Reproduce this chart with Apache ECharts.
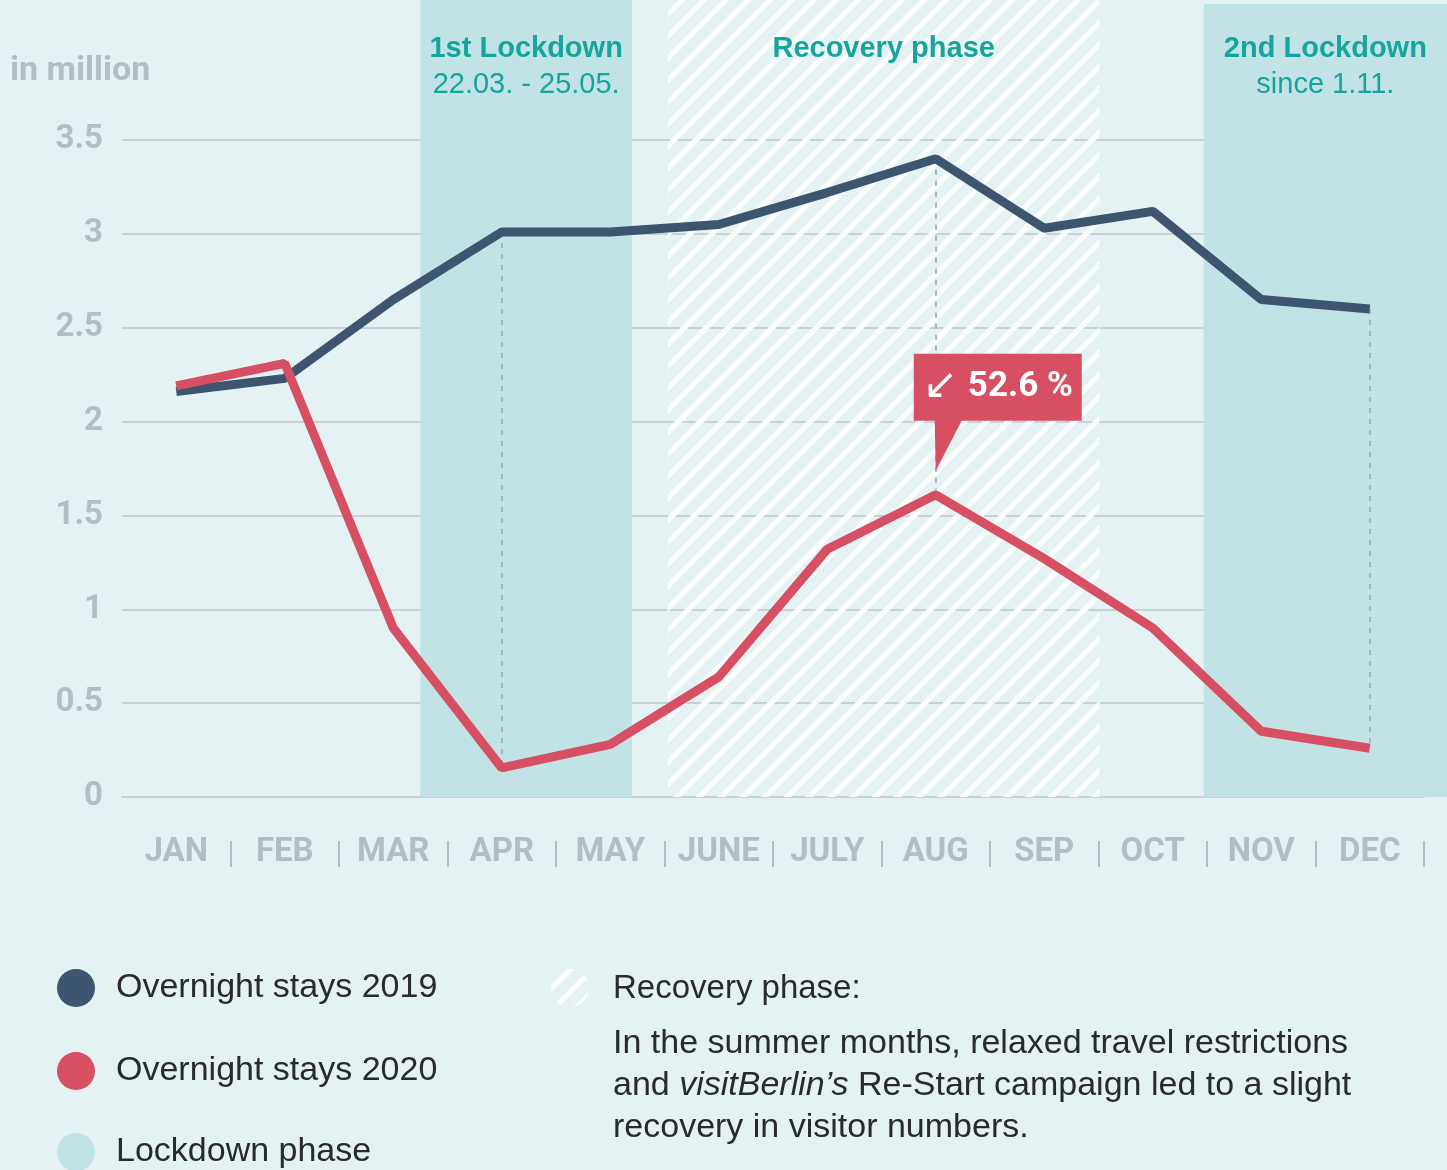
<!DOCTYPE html>
<html>
<head>
<meta charset="utf-8">
<script src="https://cdn.jsdelivr.net/npm/echarts@6/dist/echarts.min.js"></script>
<style>
    html, body { margin: 0; padding: 0; background: #e5f2f3; }
    #main { width: 1447px; height: 1170px; }
</style>
</head>
<body>
<div id="main"></div>
<script>
    // 月份
    var months = ['JAN', 'FEB', 'MAR', 'APR', 'MAY', 'JUNE', 'JULY', 'AUG', 'SEP', 'OCT', 'NOV', 'DEC'];
    // 过夜数 (百万)
    var stays2019 = [2.16, 2.23, 2.65, 3.01, 3.01, 3.05, 3.22, 3.40, 3.03, 3.12, 2.65, 2.60];
    var stays2020 = [2.19, 2.31, 0.90, 0.155, 0.28, 0.64, 1.32, 1.61, 1.27, 0.90, 0.35, 0.26];
    var yTicks = [0, 0.5, 1, 1.5, 2, 2.5, 3, 3.5];
    // 阶段 (以月为单位, 0 = 1月初)
    var phaseNames = ['1st Lockdown', 'Recovery phase', '2nd Lockdown'];
    var phaseSub = ['22.03. - 25.05.', '', 'since 1.11.'];
    var phaseStart = [2.75, 5.03, 9.97];
    var phaseEnd = [4.70, 9.01, 12.212];
    // 虚线标注的月份
    var markMonths = ['APR', 'AUG', 'DEC'];

    var teal = '#16a59d';
    var grey = '#b3bdc5';
    var lockColor = '#c2e3e5';
    var textColor = '#2a2a2a';

    // 斜线填充
    function makeHatch() {
        var c = document.createElement('canvas');
        c.width = 22;
        c.height = 22;
        var ctx = c.getContext('2d');
        ctx.strokeStyle = '#fbfdfd';
        ctx.lineWidth = 5.5;
        ctx.beginPath();
        ctx.moveTo(-11, 11); ctx.lineTo(11, -11);
        ctx.moveTo(0, 22); ctx.lineTo(22, 0);
        ctx.moveTo(11, 33); ctx.lineTo(33, 11);
        ctx.stroke();
        return c;
    }
    var hatch = {image: makeHatch(), repeat: 'repeat'};

    var bandData = [];
    for (var i = 0; i < phaseNames.length; i++) {
        var isRecovery = phaseNames[i] === 'Recovery phase';
        var txt = '{b|' + phaseNames[i] + '}' + (phaseSub[i] ? '\n{r|' + phaseSub[i] + '}' : '');
        bandData.push([
            {
                xAxis: phaseStart[i],
                yAxis: 0,
                itemStyle: {color: isRecovery ? hatch : lockColor},
                label: {formatter: txt, distance: i === 2 ? 27 : 31}
            },
            {xAxis: phaseEnd[i], yAxis: i === 2 ? 0.995 : 1}
        ]);
    }

    var markLines = [];
    for (var j = 0; j < markMonths.length; j++) {
        var k = months.indexOf(markMonths[j]);
        markLines.push([
            {coord: [markMonths[j], stays2019[k]]},
            {coord: [markMonths[j], stays2020[k]]}
        ]);
    }

    var aug = months.indexOf('AUG');
    var drop = ((stays2019[aug] - stays2020[aug]) / stays2019[aug] * 100).toFixed(1);

    var legendBase = {
        orient: 'vertical',
        left: 57,
        padding: 0,
        icon: 'circle',
        itemWidth: 38,
        itemHeight: 38,
        itemGap: 45,
        selectedMode: false,
        textStyle: {fontSize: 34, color: textColor, fontFamily: 'Liberation Sans', padding: [0, 0, 0, 16]}
    };

    var myChart = echarts.init(document.getElementById('main'));
    var option = {
        backgroundColor: '#e5f2f3',
        animation: false,
        textStyle: {fontFamily: 'Roboto'},
        grid: [
            {left: 122, right: 23, top: 140, bottom: 373},
            {left: 122, right: 0, top: 0, bottom: 373}
        ],
        xAxis: [
            {
                type: 'category',
                gridIndex: 0,
                data: months,
                boundaryGap: true,
                axisLine: {show: true, lineStyle: {color: '#c8d1d6', width: 2}},
                axisTick: {show: false},
                axisLabel: {color: grey, fontSize: 33, fontWeight: 'bold', margin: 39}
            },
            {
                type: 'category',
                gridIndex: 0,
                data: months,
                position: 'bottom',
                offset: 44,
                boundaryGap: true,
                axisLine: {show: false},
                axisLabel: {show: false},
                axisTick: {
                    show: true,
                    length: 26,
                    interval: function (index) { return index !== 0; },
                    lineStyle: {color: grey, width: 2}
                }
            },
            {
                type: 'value',
                gridIndex: 1,
                min: 0,
                max: 12.212,
                show: false
            }
        ],
        yAxis: [
            {
                type: 'value',
                gridIndex: 0,
                min: yTicks[0],
                max: yTicks[yTicks.length - 1],
                interval: 0.5,
                axisLine: {show: false},
                axisTick: {show: false},
                axisLabel: {color: grey, fontSize: 33, fontWeight: 'bold', margin: 19},
                splitLine: {lineStyle: {color: '#c8d1d6', width: 2}}
            },
            {
                type: 'value',
                gridIndex: 1,
                min: 0,
                max: 1,
                show: false
            }
        ],
        legend: [
            Object.assign({}, legendBase, {top: 969, data: ['Overnight stays 2019', 'Overnight stays 2020']}),
            Object.assign({}, legendBase, {top: 1133, data: ['Lockdown phase']})
        ],
        graphic: [
            {
                type: 'text',
                left: 10,
                top: 54,
                style: {text: 'in million', fill: grey, font: 'bold 34px Roboto'}
            },
            {
                type: 'circle',
                shape: {cx: 570, cy: 988, r: 19},
                style: {fill: hatch}
            },
            {
                type: 'text',
                left: 613,
                top: 972,
                style: {text: 'Recovery phase:', fill: textColor, font: '33px "Liberation Sans"'}
            },
            {
                type: 'text',
                left: 613,
                top: 1023,
                style: {
                    text: 'In the summer months, relaxed travel restrictions\nand {i|visitBerlin’s} Re-Start campaign led to a slight\nrecovery in visitor numbers.',
                    fill: textColor,
                    font: '34px "Liberation Sans"',
                    lineHeight: 42,
                    rich: {
                        i: {fontStyle: 'italic', fontSize: 34, fontFamily: 'Liberation Sans', fill: textColor, lineHeight: 42}
                    }
                }
            }
        ],
        series: [
            {
                name: 'Lockdown phase',
                type: 'line',
                xAxisIndex: 2,
                yAxisIndex: 1,
                z: 1,
                data: [[0, 0]],
                showSymbol: false,
                silent: true,
                itemStyle: {color: lockColor},
                lineStyle: {opacity: 0},
                markArea: {
                    silent: true,
                    label: {
                        show: true,
                        position: 'insideTop',
                        distance: 31,
                        color: teal,
                        rich: {
                            b: {fontSize: 29, fontWeight: 'bold', color: teal, lineHeight: 36, fontFamily: 'Liberation Sans'},
                            r: {fontSize: 29, color: teal, lineHeight: 36, fontFamily: 'Liberation Sans'}
                        }
                    },
                    data: bandData
                }
            },
            {
                name: 'Overnight stays 2019',
                type: 'line',
                xAxisIndex: 0,
                yAxisIndex: 0,
                z: 3,
                data: stays2019,
                showSymbol: false,
                itemStyle: {color: '#3e5570'},
                lineStyle: {color: '#3e5570', width: 9},
                markLine: {
                    silent: true,
                    symbol: 'none',
                    z: 2,
                    label: {show: false},
                    lineStyle: {color: '#a9b4bc', width: 2, type: [5, 6]},
                    data: markLines
                }
            },
            {
                name: 'Overnight stays 2020',
                type: 'line',
                xAxisIndex: 0,
                yAxisIndex: 0,
                z: 4,
                data: stays2020,
                showSymbol: false,
                itemStyle: {color: '#d64f63'},
                lineStyle: {color: '#d64f63', width: 9},
                markPoint: {
                    silent: true,
                    z: 6,
                    symbol: 'path://M0,0 L168,0 L168,67 L48,67 L22,117 L21,67 L0,67 Z',
                    symbolSize: [168, 117],
                    symbolOffset: [62, -82.5],
                    itemStyle: {color: '#d64f63'},
                    label: {
                        show: true,
                        position: 'inside',
                        offset: [0, -25],
                        formatter: '{a|↙}{v|' + drop + ' %}',
                        rich: {
                            a: {fontSize: 42, color: '#fff', fontFamily: 'DejaVu Sans', padding: [0, 10, 0, 0]},
                            v: {fontSize: 35, color: '#fff', fontWeight: 'bold', fontFamily: 'Roboto'}
                        }
                    },
                    data: [{coord: ['AUG', stays2020[aug]]}]
                }
            }
        ]
    };
    myChart.setOption(option);
</script>
</body>
</html>
